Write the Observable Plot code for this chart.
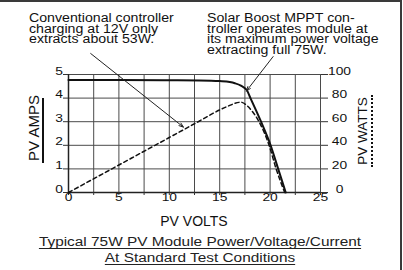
<!DOCTYPE html>
<html><head><meta charset="utf-8">
<script src="https://cdn.jsdelivr.net/npm/d3@7"></script>
<script src="https://cdn.jsdelivr.net/npm/@observablehq/plot@0.6"></script>
<style>
html,body{margin:0;padding:0;background:#fff;}
#wrap{position:relative;width:403px;height:270px;overflow:hidden;font-family:"Liberation Sans",Arial,Helvetica,sans-serif;color:#111;background:#fff;}
.frame{position:absolute;left:0;top:0;width:402px;height:270px;box-sizing:border-box;border-top:2px solid #3a3a3a;border-right:2px solid #3a3a3a;z-index:3;pointer-events:none;}
#chart{position:absolute;left:0;top:50px;z-index:1;}
.note{position:absolute;top:13px;font-size:12px;line-height:10.5px;white-space:nowrap;transform-origin:0 0;transform:scaleX(1.18);z-index:2;}
.rot{position:absolute;width:100px;height:16px;line-height:16px;text-align:center;white-space:nowrap;transform:rotate(-90deg);z-index:2;}
.bar{position:absolute;width:0;z-index:2;}
.xtitle{position:absolute;left:0;width:388px;text-align:center;font-size:14px;line-height:16px;top:212.6px;z-index:2;}
.caption{position:absolute;left:0;width:400px;text-align:center;font-size:12.5px;line-height:16px;top:234.2px;transform-origin:200px 0;transform:scaleX(1.23);color:#222;z-index:2;}
.caption div{text-decoration:underline;text-underline-offset:2px;}
</style>
</head><body>
<div id="wrap"><div class="frame"></div></div>
<script>
// ---- data ----
const currentVolts = [0, 5, 10, 13, 15, 16, 16.5, 17.1, 17.7, 18.05, 19.1, 20.05, 20.8, 21.55];
const currentAmps  = [4.77, 4.77, 4.76, 4.75, 4.72, 4.68, 4.63, 4.53, 4.33, 4.0, 3.0, 2.0, 1.0, 0];
const powerVolts   = [0, 5, 10, 13, 15, 16, 16.5, 17.1, 17.7, 18.3, 18.9, 19.9, 20.6, 21.45];
const powerWatts   = [0, 23.3, 46.6, 60.6, 70, 73.8, 75.5, 76.5, 73.7, 68, 60, 40, 20, 0];
const voltTicks = [0, 2.5, 5, 7.5, 10, 12.5, 15, 17.5, 20, 22.5, 25];
const ampTicks  = [0, 1, 2, 3, 4, 5];
const wattTicks = [0, 20, 40, 60, 80, 100];
const wattsPerAmpUnit = 20; // right axis 0..100 W shares the 0..5 A grid
const noteLeft = ["Conventional controller", "charging at 12V only", "extracts about 53W."];
const noteRight = ["Solar Boost MPPT con-", "troller operates module at", "its maximum power voltage", "extracting full 75W."];
const pointerFromV = [2.2, 20.3];
const pointerFromA = [5.89, 5.76];
const pointerToV   = [11.4, 17.65];
const pointerToA   = [2.77, 4.3];
const xTitle = "PV VOLTS", yTitleLeft = "PV AMPS", yTitleRight = "PV WATTS";
const captionLines = ["Typical 75W PV Module Power/Voltage/Current", "At Standard Test Conditions"];

// ---- tables built from the arrays ----
const currentData = currentVolts.map((v, i) => ({v, a: currentAmps[i]}));
const powerData = powerVolts.map((v, i) => ({v, w: powerWatts[i]}));
const pointers = pointerFromV.map((v, i) => ({x1: v, y1: pointerFromA[i], x2: pointerToV[i], y2: pointerToA[i]}));

const chart = Plot.plot({
  width: 403, height: 180,
  marginLeft: 68, marginRight: 83, marginTop: 24, marginBottom: 38,
  x: {domain: [0, 25]},
  y: {domain: [0, 5]},
  style: {background: "transparent", fontFamily: "'Liberation Sans', Arial, sans-serif", fontSize: "11.5px", color: "#111", overflow: "visible"},
  marks: [
    Plot.ruleX(voltTicks, {stroke: "#4a4a4a", strokeWidth: 1}),
    Plot.ruleY(ampTicks, {stroke: "#4a4a4a", strokeWidth: 1}),
    Plot.ruleX([0], {stroke: "#222", strokeWidth: 1.5}),
    Plot.ruleY([0], {stroke: "#222", strokeWidth: 1.5}),
    Plot.axisX({ticks: voltTicks, tickSize: 3, tickPadding: 5, tickFormat: d => d % 5 === 0 ? String(d) : "", label: null, stroke: "#333"}),
    Plot.axisY({ticks: ampTicks, tickSize: 5, tickPadding: 0.5, tickFormat: d => String(d), label: null, stroke: "#333"}),
    Plot.axisY({anchor: "right", ticks: ampTicks, tickSize: 7, tickPadding: 12, textAnchor: "middle",
      tickFormat: d => String(wattTicks[ampTicks.indexOf(d)]), label: null, stroke: "#333"}),
    Plot.line(powerData, {x: "v", y: d => d.w / wattsPerAmpUnit, stroke: "#111", strokeWidth: 1.5, strokeDasharray: "4,3", curve: "monotone-x"}),
    Plot.line(currentData, {x: "v", y: "a", stroke: "#111", strokeWidth: 2, curve: "monotone-x"}),
    Plot.arrow(pointers, {x1: "x1", y1: "y1", x2: "x2", y2: "y2", stroke: "#222", strokeWidth: 1, headLength: 7, headAngle: 40})
  ]
});

// stretch tick labels horizontally like the reference's wide lettering
chart.querySelectorAll('g[aria-label*="tick label"] text').forEach(t => {
  const x = t.getAttribute("x"), y = t.getAttribute("y");
  let tr = t.getAttribute("transform") || "";
  if (x !== null || y !== null) {
    tr += ` translate(${+x || 0},${+y || 0})`;
    t.removeAttribute("x"); t.removeAttribute("y");
  }
  t.setAttribute("transform", (tr + " scale(1.2,1)").trim());
});

const wrap = document.getElementById("wrap");
chart.id = "chart";
wrap.appendChild(chart);

function addNote(lines, left) {
  const d = document.createElement("div");
  d.className = "note";
  d.style.left = left + "px";
  lines.forEach(s => { const l = document.createElement("div"); l.textContent = s; d.appendChild(l); });
  wrap.appendChild(d);
}
addNote(noteLeft, 29);
addNote(noteRight, 207);

function addRot(text, cx, cy, size) {
  const d = document.createElement("div");
  d.className = "rot";
  d.textContent = text;
  d.style.left = (cx - 50) + "px";
  d.style.top = (cy - 8) + "px";
  d.style.fontSize = size + "px";
  wrap.appendChild(d);
}
addRot(yTitleLeft, 34, 128, 15);
addRot(yTitleRight, 362.5, 131, 13.5);

function addBar(left, top, h, style) {
  const d = document.createElement("div");
  d.className = "bar";
  d.style.left = left + "px"; d.style.top = top + "px"; d.style.height = h + "px";
  d.style.borderLeft = style;
  wrap.appendChild(d);
}
addBar(42, 98, 65, "2px solid #111");
addBar(371, 95, 72, "2px dotted #111");

const xt = document.createElement("div");
xt.className = "xtitle"; xt.textContent = xTitle;
wrap.appendChild(xt);

const cap = document.createElement("div");
cap.className = "caption";
captionLines.forEach(s => { const l = document.createElement("div"); l.textContent = s; cap.appendChild(l); });
wrap.appendChild(cap);
</script>
</body></html>
